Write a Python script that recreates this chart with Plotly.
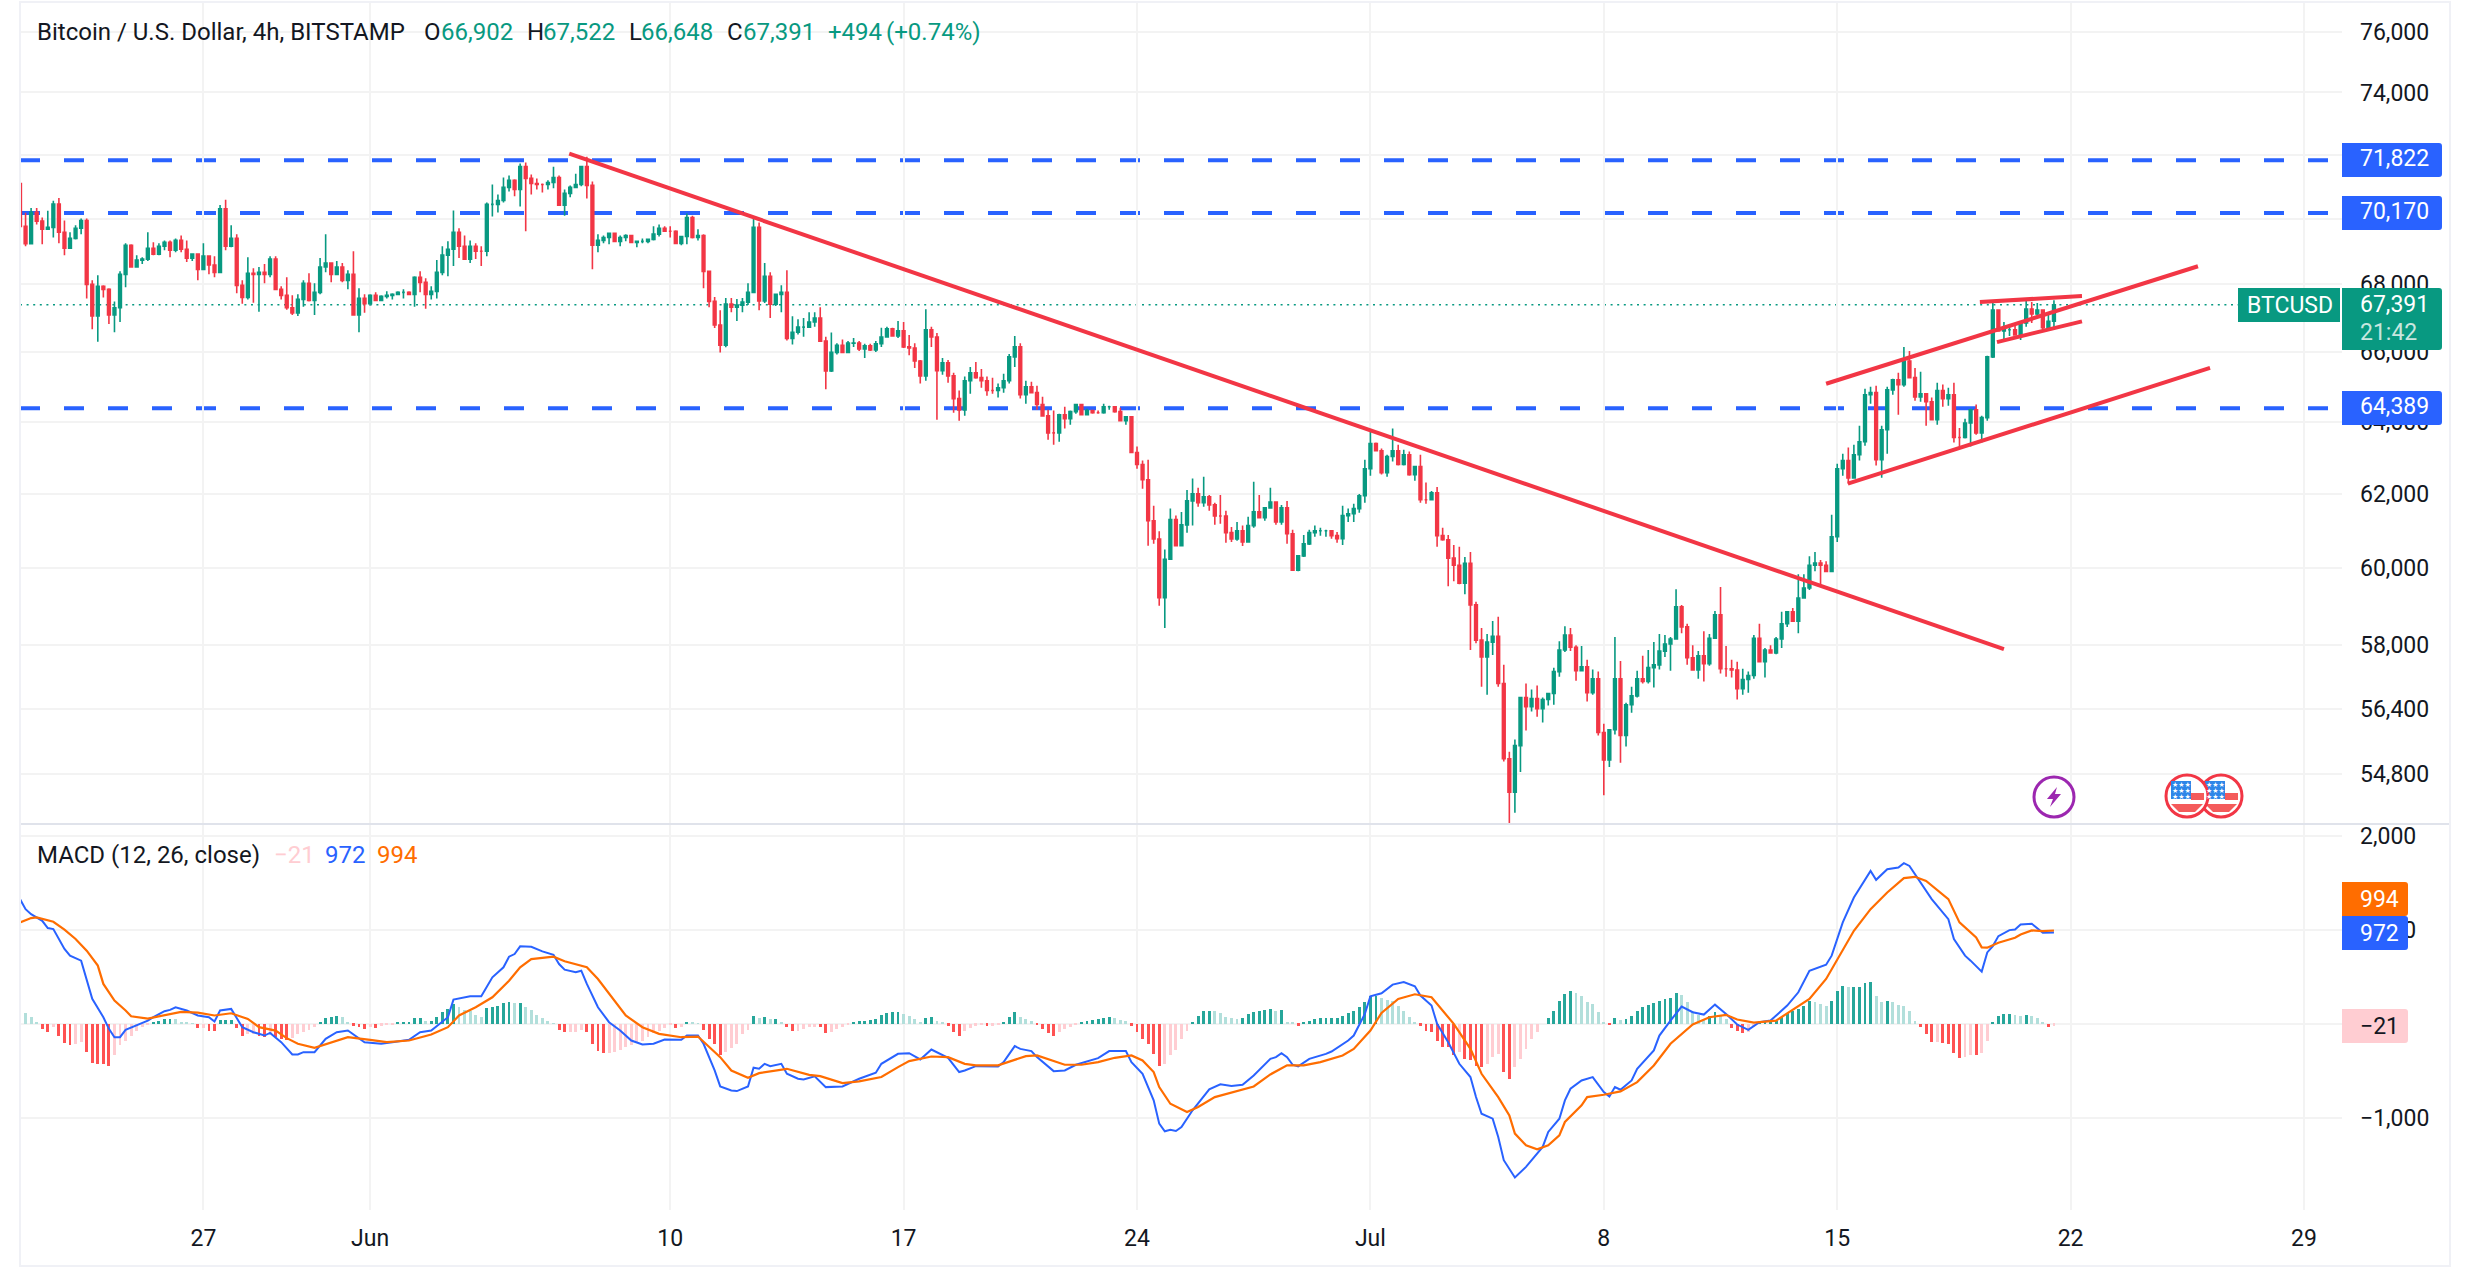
import pandas as pd
import plotly.graph_objects as go

W, H = 2470, 1270
FONT = "Roboto"
TEXT_COL = "#131722"
UP = "#089981"
DOWN = "#F23645"
BLUE = "#2962FF"
ORANGE = "#FF6D00"
GRID = "#f3f3f3"
BORDER = "#e0e3eb"

# 4h candles, first bar
first_time = "2024-05-21 12:00"
first_open = 71090

closes = [
    69760, 69230, 70190, 69920, 69670, 69730, 70450, 69580, 69090, 69390,
    69700, 69940, 68000, 67060, 67940, 67850, 67090, 67300, 68300, 69180,
    68520, 68730, 68760, 69090, 68910, 69150, 69270, 69030, 69330, 69060,
    68790, 68910, 68450, 68850, 68580, 68360, 70300, 69150, 69390, 67970,
    67610, 68330, 68300, 68360, 68300, 68760, 67850, 67670, 67300, 67150,
    67550, 68030, 67520, 67760, 68520, 68640, 68300, 68520, 68120, 68300,
    67090, 67580, 67420, 67670, 67520, 67640, 67670, 67700, 67760, 67760,
    67700, 68210, 68060, 67700, 67790, 68360, 68880, 69060, 69580, 69150,
    68760, 69150, 69000, 69000, 70440, 70440, 70560, 70970, 71190, 70900,
    71620, 71250, 71090, 71060, 71060, 71120, 71280, 70410, 70780, 70970,
    71060, 71620, 71030, 69180, 69330, 69420, 69550, 69300, 69420, 69480,
    69270, 69300, 69300, 69360, 69520, 69700, 69610, 69610, 69240, 69450,
    70030, 69420, 69480, 68390, 67490, 66790, 66200, 67410, 67320, 67380,
    67470, 67760, 69730, 67500, 68240, 67410, 67700, 67760, 66400, 66580,
    66730, 66730, 66880, 67000, 66320, 65450, 65990, 66200, 65990, 66260,
    66265, 66090, 66180, 66060, 66240, 66440, 66680, 66470, 66620, 66150,
    66120, 65740, 65310, 66650, 66440, 65460, 65690, 65310, 64660, 64340,
    65170, 65400, 65260, 65170, 64890, 64890, 64970, 65170, 65860, 66150,
    64770, 65000, 64830, 64490, 64170, 63690, 63690, 64200, 64090, 64290,
    64490, 64200, 64320, 64260, 64260, 64430, 64430, 64290, 64030, 64140,
    63140, 62810, 62390, 61270, 60780, 59230, 60240, 61300, 60600, 61160,
    61810, 62000, 61760, 61920, 61700, 61400, 61400, 60950, 60780, 61000,
    60700, 61140, 61510, 61350, 61620, 61780, 61240, 61620, 60920, 59950,
    60330, 60650, 60950, 61000, 61000, 61000, 60870, 60790, 61410, 61460,
    61600, 61950, 62690, 63390, 63190, 62580, 63030, 63190, 62810, 63080,
    62530, 62750, 61840, 61840, 62030, 60870, 60760, 60270, 60080, 59610,
    60130, 59040, 58130, 57700, 58080, 58230, 57030, 55170, 54360, 55490,
    56680, 56450, 56650, 56400, 56630, 56780, 57330, 57880, 58260, 57950,
    57350, 57450, 56800, 57150, 55810, 55140, 55880, 57150, 55740, 56500,
    56720, 57150, 57080, 57430, 57500, 57850, 58030, 58160, 58990, 58470,
    57680, 57370, 57730, 57530, 58180, 58780, 57400, 57400, 57370, 56900,
    57130, 57230, 58180, 57580, 57880, 57800, 58160, 58550, 58860, 58620,
    59220, 59480, 60080, 60140, 60080, 59920, 60840, 62690, 62920, 62440,
    63080, 63440, 64770, 64830, 62940, 63780, 64910, 65200, 65060, 65740,
    65260, 64710, 64800, 64570, 64060, 64890, 64660, 64770, 63560, 63560,
    63970, 64340, 63690, 64120, 65860, 67230, 66620, 66650, 66650, 66500,
    66850, 67260, 67120, 67230, 66710, 66902, 67391,
]

highs = [
    71350, 70180, 70330, 70330, 70030, 70240, 70550, 70640, 69940, 69580,
    69790, 70000, 70000, 68120, 68270, 67970, 67880, 67490, 68390, 69240,
    69210, 68880, 68820, 69580, 69270, 69240, 69330, 69330, 69390, 69480,
    69330, 68940, 68880, 69240, 68850, 68850, 70420, 70580, 69790, 69520,
    68120, 68820, 68480, 68520, 68610, 68850, 68850, 67940, 68210, 67670,
    67700, 68120, 68330, 68030, 68790, 69520, 68640, 68700, 68640, 68420,
    69000, 67880, 67700, 67700, 67760, 67670, 67790, 67730, 67790, 67850,
    67790, 68240, 68390, 68180, 67940, 68730, 69150, 69300, 70250, 69700,
    69480, 69330, 69240, 69150, 70500, 71060, 70750, 71280, 71340, 71220,
    71720, 71750, 71370, 71250, 71090, 71190, 71620, 71340, 70900, 71030,
    71400, 71650, 71930, 71150, 69520, 69480, 69550, 69520, 69480, 69520,
    69450, 69330, 69390, 69360, 69760, 69820, 69760, 69760, 69640, 69450,
    70160, 70090, 69670, 69520, 68390, 67620, 67230, 67590, 67590, 67560,
    67590, 68030, 70000, 69880, 68640, 68360, 67700, 67970, 68420, 67050,
    66960, 67000, 67170, 67170, 67320, 66450, 66570, 66260, 66370, 66320,
    66410, 66320, 66240, 66240, 66320, 66710, 66740, 66710, 66910, 66880,
    66500, 66260, 65770, 67260, 66740, 66560, 65830, 65770, 65400, 64890,
    65290, 65570, 65710, 65510, 65290, 65260, 65090, 65370, 65940, 66470,
    66260, 65170, 65140, 65030, 64710, 64340, 64320, 64230, 64430, 64320,
    64490, 64510, 64370, 64340, 64320, 64510, 64460, 64400, 64400, 64140,
    64140, 63310, 62920, 62940, 61680, 60990, 60500, 61600, 61410, 61510,
    62110, 62420, 62170, 62470, 61970, 61760, 61970, 61540, 61100, 61240,
    61140, 61380, 62330, 61970, 61620, 62170, 61780, 61700, 61810, 61030,
    60330, 60890, 61030, 61140, 61080, 61030, 61000, 60970, 61680, 61600,
    61730, 62000, 62940, 63720, 63420, 63250, 63080, 63810, 63360, 63220,
    63170, 62750, 63080, 62310, 62080, 62190, 61080, 60890, 60620, 60570,
    60300, 60430, 59120, 58440, 58290, 58620, 58730, 57500, 55340, 55640,
    56700, 57030, 56880, 56980, 56680, 56800, 57430, 58100, 58490, 58440,
    58000, 57980, 57630, 57380, 57330, 56030, 55880, 58210, 57600, 56550,
    56950, 57350, 57730, 57880, 58080, 58290, 58260, 58210, 59450, 59040,
    58550, 58000, 57850, 58360, 58290, 58880, 59510, 57980, 57630, 57580,
    57400, 57330, 58260, 58550, 57930, 58000, 58210, 58860, 58880, 58960,
    59840, 59840, 60320, 60430, 60220, 60190, 61430, 62830, 63110, 63280,
    63360, 63890, 64940, 65000, 65030, 63890, 65000, 65230, 65400, 66150,
    66030, 65540, 65430, 64800, 64690, 65110, 65060, 64970, 65110, 63830,
    64090, 64370, 64490, 64170, 65890, 67470, 67230, 66880, 66760, 66790,
    66910, 67520, 67470, 67440, 67260, 67090, 67522,
]

lows = [
    69670, 69150, 69210, 69820, 69210, 69670, 69420, 69240, 68880, 69120,
    69360, 69520, 67580, 66670, 66300, 67610, 66820, 66580, 66880, 67910,
    68520, 68520, 68610, 68700, 68880, 68880, 69030, 68820, 68970, 68970,
    68670, 68700, 68120, 68450, 68300, 68210, 68330, 69030, 69120, 67730,
    67420, 67550, 67450, 67180, 68030, 68210, 67850, 67550, 67240, 67090,
    67060, 67330, 67490, 67090, 67700, 68360, 68060, 68270, 68060, 67850,
    67090, 66580, 67150, 67360, 67520, 67550, 67580, 67550, 67670, 67580,
    67700, 67330, 67760, 67270, 67550, 67580, 68270, 68240, 68550, 68790,
    68730, 68640, 68760, 68550, 68850, 70060, 70190, 70500, 70840, 70690,
    70370, 69610, 70750, 70900, 70810, 70900, 70940, 70410, 70090, 70660,
    70940, 71000, 70620, 68450, 68970, 69240, 69210, 69300, 69150, 69300,
    69270, 69120, 69240, 69240, 69330, 69450, 69610, 69420, 69240, 69180,
    69210, 69390, 69330, 67880, 67320, 66700, 65990, 66140, 67170, 66910,
    67170, 67380, 67730, 67230, 67440, 67000, 67350, 67170, 66340, 66220,
    66510, 66450, 66700, 66740, 66320, 64930, 65420, 65930, 65990, 66020,
    66150, 66030, 65830, 66030, 66000, 66150, 66440, 66470, 66410, 66120,
    65910, 65540, 65090, 65170, 66150, 64060, 65340, 65110, 64260, 64030,
    64170, 64800, 65230, 64970, 64740, 64800, 64690, 64830, 65090, 65570,
    64660, 64510, 64830, 64340, 64170, 63500, 63360, 63440, 63810, 63920,
    64230, 64200, 64230, 64230, 64230, 64230, 64340, 64260, 64030, 63920,
    63140, 62690, 62140, 60600, 60650, 59020, 58440, 60220, 60600, 60620,
    60950, 61140, 61650, 61650, 61540, 61160, 61190, 60680, 60700, 60730,
    60590, 60680, 61080, 61350, 61270, 61600, 61160, 61160, 60650, 59950,
    59920, 60300, 60620, 60840, 60870, 60840, 60790, 60680, 60620, 61240,
    61240, 61490, 61760, 62500, 63170, 62530, 62470, 62890, 62780, 62780,
    62500, 62360, 61760, 61730, 61840, 60570, 60730, 59530, 59660, 59580,
    59320, 57880, 58050, 56950, 56750, 57750, 56950, 55100, 53630, 53870,
    54850, 55860, 56330, 56200, 56060, 56480, 56500, 57200, 57830, 57850,
    57100, 57380, 56580, 56750, 55740, 54290, 54970, 55760, 55070, 55470,
    56300, 56680, 57030, 57030, 56930, 57380, 57700, 57350, 58180, 58310,
    57500, 57350, 57150, 57080, 57480, 58160, 57280, 57200, 57180, 56630,
    56750, 56800, 57150, 57580, 57180, 57800, 57770, 57930, 58470, 58600,
    58310, 59220, 59430, 59920, 59580, 59920, 59900, 60700, 62500, 62280,
    62500, 62920, 63330, 64510, 62780, 62440, 63110, 64770, 64200, 65000,
    65260, 64600, 64570, 63890, 64060, 63920, 64430, 64460, 63420, 63310,
    63530, 63310, 63640, 63420, 64030, 65830, 66620, 66350, 66470, 66500,
    66350, 66740, 66850, 67000, 66650, 66680, 66648,
]

opens = [first_open] + closes[:-1]

# horizontal levels and price line
levels = [71822, 70170, 64389]
last_price = 67391

# hand drawn trend lines: (start time, end time), (start price, end price)
trend_times = [
    ("2024-06-06 23:20", "2024-07-20 00:00"),
    ("2024-07-14 16:00", "2024-07-25 19:40"),
    ("2024-07-15 07:40", "2024-07-26 04:20"),
    ("2024-07-19 06:40", "2024-07-22 08:10"),
    ("2024-07-19 19:00", "2024-07-22 08:10"),
]
trend_prices = [
    (72030, 57900),
    (65085, 68545),
    (62280, 65540),
    (67470, 67650),
    (66290, 66900),
]

# MACD lines, read at these bars
macd_bars = [
    0, 1, 2, 4, 5, 6, 8, 9, 11, 12, 13, 15, 16, 17, 18, 19, 21, 23, 24, 26, 27, 28, 30, 32, 34, 35,
    36, 38, 40, 42, 44, 45, 47, 49, 50, 51, 53, 55, 57, 59, 62, 65, 67, 70, 72, 74, 77, 78, 81, 83,
    85, 87, 88, 89, 90, 92, 94, 96, 97, 98, 100, 101, 102, 104, 106, 108, 110, 112, 114, 116, 119,
    120, 122, 123, 125, 126, 128, 129, 131, 132, 133, 134, 135, 137, 138, 140, 141, 143, 145, 148,
    151, 154, 155, 158, 160, 162, 164, 166, 167, 169, 170, 172, 176, 177, 179, 180, 182, 183, 186,
    188, 190, 194, 196, 199, 200, 202, 204, 205, 206, 207, 208, 209, 211, 214, 216, 218, 220, 222,
    225, 226, 227, 228, 229, 230, 232, 235, 236, 239, 240, 242, 243, 245, 247, 249, 251, 252, 254,
    255, 257, 259, 261, 262, 263, 265, 266, 267, 269, 271, 274, 275, 277, 278, 279, 281, 283, 285,
    286, 287, 288, 290, 291, 294, 295, 297, 299, 301, 303, 305, 307, 309, 311, 313, 315, 318, 320,
    322, 325, 326, 328, 330, 333, 334, 336, 338, 339, 340, 344, 347, 348, 350, 351, 353, 354, 355,
    356, 358, 359, 360, 362, 364, 366,
]
macd_vals = [
    1328, 1221, 1168, 1097, 1020, 1009, 797, 726, 673, 460, 266, 71, -53, -142, -142, -64, -11, 35, 71, 135, 149, 177, 142, 89, 71, 25,
    142, 159, -35, -89, -124, -96, -195, -326, -326, -301, -301, -159, -89, -71, -195, -212, -195, -170, -89, -71, 71, 258, 294, 294,
    496, 602, 715, 743, 825, 821, 772, 736, 637, 577, 549, 566, 425, 177, 18, -71, -177, -219, -212, -166, -170,
    -124, -124, -212, -496, -666, -708, -715, -666, -467, -478, -425, -450, -425, -531, -584, -591, -559, -673, -666,
    -584, -520, -425, -319, -312, -379, -273, -329, -361, -513, -496, -450, -453, -407, -237, -266, -290, -354, -503,
    -496, -435, -365, -290, -290, -407, -531, -814, -1062, -1143, -1126, -1140, -1097, -920, -697, -644, -662, -648, -549,
    -372, -354, -312, -354, -435, -453, -372, -319, -294, -177, -124, 106, 294, 326, 418, 446, 400, 301, 195,
    0, -195, -425, -566, -779, -956, -1009, -1204, -1451, -1635, -1522, -1310, -1150, -1009, -814, -690, -602, -566, -726,
    -772, -673, -701, -602, -478, -283, -124, 35, 184, 124, 99, 205, 106, -7, -64, 18, 35, 195, 336,
    566, 630, 726, 1080, 1345, 1628, 1533, 1646, 1664, 1710, 1681, 1328, 1115, 903, 726, 673, 556, 761, 828,
    934, 998, 1005, 1058, 1066, 970, 972,
]

signal_bars = [
    0, 2, 3, 6, 8, 10, 12, 14, 15, 17, 19, 20, 23, 26, 29, 32, 35, 38, 41, 43, 46, 48, 50, 53, 56, 59,
    63, 66, 70, 74, 77, 79, 82, 85, 88, 90, 92, 96, 98, 102, 104, 106, 109, 112, 115, 119, 122, 126,
    128, 131, 133, 138, 142, 144, 148, 151, 155, 158, 160, 164, 167, 170, 172, 176, 179, 181, 183,
    186, 188, 191, 194, 197, 200, 202, 204, 205, 207, 210, 212, 215, 219, 222, 225, 228, 231, 234,
    238, 240, 243, 245, 248, 251, 254, 256, 258, 261, 263, 266, 268, 269, 271, 273, 275, 277, 278,
    281, 282, 285, 288, 291, 294, 297, 300, 301, 304, 307, 309, 312, 316, 318, 322, 325, 328, 330,
    333, 336, 339, 341, 343, 347, 349, 352, 353, 354, 356, 359, 360, 362, 364, 366,
]
signal_vals = [
    1080, 1126, 1133, 1087, 1002, 903, 779, 620, 425, 248, 142, 81, 57, 89, 127, 120, 89, 113, 53, -35, -71, -152, -212, -255, -195, -142,
    -170, -195, -177, -113, -35, 89, 177, 283, 460, 602, 690, 715, 666, 602, 478, 319, 89, -35, -106, -142, -135, -354,
    -496, -573, -524, -478, -542, -556, -630, -612, -566, -460, -396, -347, -354, -425, -442, -442, -379, -343, -336,
    -396, -435, -435, -407, -361, -336, -389, -513, -673, -850, -938, -885, -779, -715, -666, -538, -442, -442, -407,
    -336, -266, -71, 117, 266, 315, 283, 142, 0, -266, -531, -779, -974, -1168, -1292, -1335, -1292, -1186, -1044,
    -867, -779, -754, -719, -620, -443, -212, -60, -7, 71, 96, 46, 14, 35, 113, 266, 478, 779, 991,
    1221, 1398, 1551, 1565, 1522, 1328, 1080, 920, 814, 811, 864, 917, 952, 995, 988, 994,
]

# MACD histogram, one value per bar
hist_vals = [
    241, 113, 71, 21, -53, -89, -28, -124, -205, -230,
    -219, -195, -301, -418, -425, -432, -443, -336, -230, -177,
    -124, -71, -28, -11, 11, 28, 50, 57, 50, 21,
    11, 7, -42, -42, -71, -78, 42, 42, 42, -42,
    -124, -113, -113, -124, -135, -106, -135, -159, -170, -149,
    -106, -89, -64, -28, 18, 64, 78, 89, 78, 18,
    -18, -28, -53, -28, -42, -21, -11, -7, 11, 11,
    18, 64, 64, 28, 28, 71, 131, 159, 212, 177,
    149, 135, 99, 71, 170, 184, 195, 219, 230, 219,
    227, 184, 149, 99, 64, 28, 7, -64, -89, -89,
    -89, -64, -89, -212, -290, -312, -312, -301, -276, -248,
    -230, -205, -177, -142, -99, -78, -42, -14, -42, -28,
    14, 11, 4, -64, -159, -212, -336, -301, -255, -212,
    -106, -64, 89, 64, 78, 53, 53, 18, -35, -78,
    -78, -53, -35, -28, -35, -99, -89, -53, -28, -11,
    11, 28, 35, 42, 53, 99, 117, 124, 131, 106,
    89, 53, 18, 64, 78, 28, 11, -18, -89, -124,
    -78, -42, -18, -11, -21, -21, -11, 21, 78, 124,
    78, 53, 28, -14, -53, -99, -124, -89, -53, -28,
    -7, 11, 28, 46, 50, 64, 71, 64, 42, 35,
    -21, -89, -159, -219, -319, -443, -432, -336, -283, -159,
    -78, 21, 89, 135, 142, 135, 113, 78, 64, 53,
    64, 106, 124, 135, 149, 159, 142, 149, 18, 11,
    -18, 11, 28, 53, 64, 64, 64, 64, 89, 117,
    135, 177, 230, 301, 301, 276, 255, 241, 195, 135,
    78, 18, -21, -71, -89, -184, -241, -248, -336, -301,
    -372, -382, -443, -460, -425, -354, -319, -513, -584, -460,
    -372, -266, -159, -89, 0, 64, 135, 248, 319, 354,
    326, 301, 230, 212, 124, 11, -14, 64, 42, 53,
    89, 142, 177, 205, 219, 248, 266, 276, 326, 312,
    230, 135, 99, 42, 89, 124, 89, 53, -42, -78,
    -99, -89, -28, 18, 28, 28, 35, 78, 113, 142,
    159, 195, 241, 230, 212, 195, 241, 347, 407, 389,
    389, 389, 432, 443, 301, 230, 248, 230, 205, 195,
    135, 28, -28, -106, -195, -195, -205, -219, -312, -361,
    -354, -326, -336, -312, -177, 18, 89, 106, 106, 96,
    89, 99, 85, 64, 14, -35, -21,
]

# axis ticks
date_ticks = ["2024-05-27", "2024-06-01", "2024-06-10", "2024-06-17", "2024-06-24",
              "2024-07-01", "2024-07-08", "2024-07-15", "2024-07-22", "2024-07-29"]
date_labels = ["27", "Jun", "10", "17", "24", "Jul", "8", "15", "22", "29"]
price_ticks = [76000, 74000, 72000, 70000, 68000, 66000, 64000, 62000, 60000, 58000, 56400, 54800]
macd_ticks = [2000, 1000, 0, -1000]
macd_labels = ["2,000", "1,000", "0", "\u22121,000"]


def px(x):
    return x / W


def py(y):
    return 1 - y / H


def hist_colors(vals):
    """Dark when the bar grows away from zero, light when it shrinks."""
    cols = []
    prev = vals[0]
    for v in vals:
        if v >= 0:
            cols.append("#26A69A" if v >= prev else "#B2DFDB")
        else:
            cols.append("#FF5252" if v < prev else "#FFCDD2")
        prev = v
    return cols


times = pd.date_range(first_time, periods=len(closes), freq="4h")
x_range = ["2024-05-21 12:00", "2024-07-30 03:20"]

fig = go.Figure()

fig.add_trace(go.Candlestick(
    x=times, open=opens, high=highs, low=lows, close=closes,
    increasing=dict(line=dict(color=UP, width=1.6), fillcolor=UP),
    decreasing=dict(line=dict(color=DOWN, width=1.6), fillcolor=DOWN),
    whiskerwidth=0, showlegend=False, xaxis="x", yaxis="y",
))

for t, p in zip(trend_times, trend_prices):
    fig.add_trace(go.Scatter(
        x=list(t), y=list(p), mode="lines", showlegend=False,
        line=dict(color=DOWN, width=4), xaxis="x", yaxis="y",
    ))

fig.add_trace(go.Bar(
    x=times, y=hist_vals, width=4 * 3600 * 1000 * 0.52,
    marker=dict(color=hist_colors(hist_vals), line=dict(width=0)),
    showlegend=False, xaxis="x2", yaxis="y2",
))
fig.add_trace(go.Scatter(
    x=[times[i] for i in macd_bars], y=macd_vals, mode="lines", showlegend=False,
    line=dict(color=BLUE, width=2), xaxis="x2", yaxis="y2",
))
fig.add_trace(go.Scatter(
    x=[times[i] for i in signal_bars], y=signal_vals, mode="lines", showlegend=False,
    line=dict(color=ORANGE, width=2.2), xaxis="x2", yaxis="y2",
))

# levels sit under the candles
for lv in levels:
    fig.add_shape(type="line", xref="x", yref="y", x0=x_range[0], x1=x_range[1], y0=lv, y1=lv,
                  layer="below", line=dict(color=BLUE, width=4, dash="20px,24px"))
fig.add_shape(type="line", xref="x", yref="y", x0=x_range[0], x1=x_range[1],
              y0=last_price, y1=last_price, layer="below",
              line=dict(color=UP, width=1.7, dash="2px,4.6px"))
fig.add_shape(type="line", xref="x2", yref="y2", x0=x_range[0], x1=x_range[1], y0=0, y1=0,
              layer="below", line=dict(color="#b2b5be", width=2, dash="11px,11px"))


def box(x0, y0, x1, y1, color):
    fig.add_shape(type="rect", xref="paper", yref="paper",
                  x0=px(x0), x1=px(x1), y0=py(y1), y1=py(y0), layer="above",
                  fillcolor=color, line=dict(width=0))


def tag(x0, y0, x1, y1, color, r=3):
    """Price tag with rounded right corners."""
    pts = (f"M {px(x0):.5f},{py(y0):.5f} L {px(x1 - r):.5f},{py(y0):.5f} "
           f"Q {px(x1):.5f},{py(y0):.5f} {px(x1):.5f},{py(y0 + r):.5f} "
           f"L {px(x1):.5f},{py(y1 - r):.5f} "
           f"Q {px(x1):.5f},{py(y1):.5f} {px(x1 - r):.5f},{py(y1):.5f} "
           f"L {px(x0):.5f},{py(y1):.5f} Z")
    fig.add_shape(type="path", xref="paper", yref="paper", layer="above",
                  path=pts, fillcolor=color, line=dict(width=0))


def label(x, y, text, color=TEXT_COL, size=23, anchor="left", font=FONT):
    fig.add_annotation(xref="paper", yref="paper", x=px(x), y=py(y), text=text,
                       showarrow=False, xanchor=anchor, yanchor="middle",
                       font=dict(family=font, size=size, color=color),
                       borderpad=0, borderwidth=0)


# frame and pane separator
for x0, y0, x1, y1 in [(20, 823, 2450, 825), (2449, 2, 2451, 1266), (19, 2, 21, 1266),
                       (19, 1, 2451, 3), (19, 1265, 2451, 1267)]:
    box(x0, y0, x1, y1, BORDER if y0 == 823 else "#f0f1f6")

# price tags
for lv, y0 in zip(levels, [143, 196, 391]):
    tag(2342, y0, 2442, y0 + 34, BLUE)
    label(2360, y0 + 16, f"{lv:,}", "white")
box(2238, 288, 2340, 322, UP)
label(2247, 305, "BTCUSD", "white", 23)
tag(2342, 288, 2442, 350, UP)
label(2360, 304, f"{last_price:,}", "white")
label(2360, 332, "21:42", "#c8e6df")

# MACD tags
tag(2342, 882, 2408, 916, ORANGE)
label(2360, 899, str(signal_vals[-1]), "white")
tag(2342, 916, 2408, 950, BLUE)
label(2360, 933, str(macd_vals[-1]), "white")
tag(2342, 1009, 2408, 1043, "#FFCDD2")
label(2360, 1026, "\u2212" + str(abs(hist_vals[-1])), TEXT_COL)

# header row
label(37, 32, "Bitcoin / U.S. Dollar, 4h, BITSTAMP", size=24)
for x, text, col in [(424, "O", TEXT_COL), (441, "66,902", UP), (527, "H", TEXT_COL), (543, "67,522", UP),
                     (629, "L", TEXT_COL), (641, "66,648", UP), (727, "C", TEXT_COL), (743, "67,391", UP),
                     (828, "+494", UP), (886, "(+0.74%)", UP)]:
    label(x, 32, text, col, 24)

label(37, 855, "MACD (12, 26, close)", size=24)
label(274, 855, "\u221221", "#FFCDD2", 24)
label(325, 855, "972", BLUE, 24)
label(377, 855, "994", ORANGE, 24)

# event icons at the bottom of the price pane
fig.add_shape(type="circle", xref="paper", yref="paper", x0=px(2034), x1=px(2074), y0=py(817), y1=py(777),
              layer="above", fillcolor="white", line=dict(color="#9C27B0", width=3))
bolt = [(2057, 787), (2047, 799), (2053, 799), (2050, 807), (2061, 794), (2055, 794)]
fig.add_shape(type="path", xref="paper", yref="paper", layer="above", fillcolor="#9C27B0", line=dict(width=0),
              path="M " + " L ".join(f"{px(a):.5f},{py(b):.5f}" for a, b in bolt) + " Z")

for cx in [2221, 2187]:
    cy = 796
    fig.add_shape(type="circle", xref="paper", yref="paper", x0=px(cx - 21), x1=px(cx + 21),
                  y0=py(cy + 21), y1=py(cy - 21), layer="above", fillcolor="white",
                  line=dict(color=DOWN, width=3))
    # stripes
    box(cx + 4, cy - 3, cx + 17, cy + 4, "#F45B5B")
    fig.add_shape(type="path", xref="paper", yref="paper", layer="above", fillcolor="#F45B5B", line=dict(width=0),
                  path=f"M {px(cx - 16):.5f},{py(cy + 8):.5f} L {px(cx + 16):.5f},{py(cy + 8):.5f} "
                       f"L {px(cx + 8):.5f},{py(cy + 16):.5f} L {px(cx - 8):.5f},{py(cy + 16):.5f} Z")
    # canton
    box(cx - 16, cy - 15, cx + 4, cy + 3, "#2E86E8")
    for row in range(3):
        label(cx - 6, cy - 11 + row * 6, "\u2605\u2605\u2605", "white", 7, "center", "DejaVu Sans")

fig.update_layout(
    width=W, height=H,
    margin=dict(l=0, r=0, t=0, b=0),
    paper_bgcolor="white", plot_bgcolor="white",
    showlegend=False, bargap=0,
    font=dict(family=FONT, color=TEXT_COL, size=23),
    xaxis=dict(
        domain=[px(20), px(2342)], range=x_range, type="date", anchor="y",
        tickvals=date_ticks, showticklabels=False, ticks="",
        showgrid=True, gridcolor=GRID, gridwidth=2, zeroline=False,
        showline=False, rangeslider=dict(visible=False),
    ),
    yaxis=dict(
        domain=[py(823), py(2)], type="log", range=[4.7294, 4.88655], side="right", anchor="x",
        tickvals=price_ticks, ticktext=[f"{v:,}" for v in price_ticks], ticks="",
        ticklabelstandoff=17, showgrid=True, gridcolor=GRID, gridwidth=2, zeroline=False,
        showline=False, tickfont=dict(size=23, color=TEXT_COL, family=FONT),
    ),
    xaxis2=dict(
        domain=[px(20), px(2342)], range=x_range, type="date", anchor="y2", matches="x",
        tickvals=date_ticks, ticktext=date_labels, ticks="", ticklabelstandoff=12,
        showgrid=True, gridcolor=GRID, gridwidth=2, zeroline=False,
        showline=False, tickfont=dict(size=23, color=TEXT_COL, family=FONT),
    ),
    yaxis2=dict(
        domain=[py(1210), py(823)], range=[-1981, 2138], side="right", anchor="x2",
        tickvals=macd_ticks, ticktext=macd_labels, ticks="",
        ticklabelstandoff=17, showgrid=True, gridcolor=GRID, gridwidth=2, zeroline=False,
        showline=False, tickfont=dict(size=23, color=TEXT_COL, family=FONT),
    ),
)

fig.write_html("out.html", config=dict(displayModeBar=False),
               post_script="document.body.style.margin='0';")
